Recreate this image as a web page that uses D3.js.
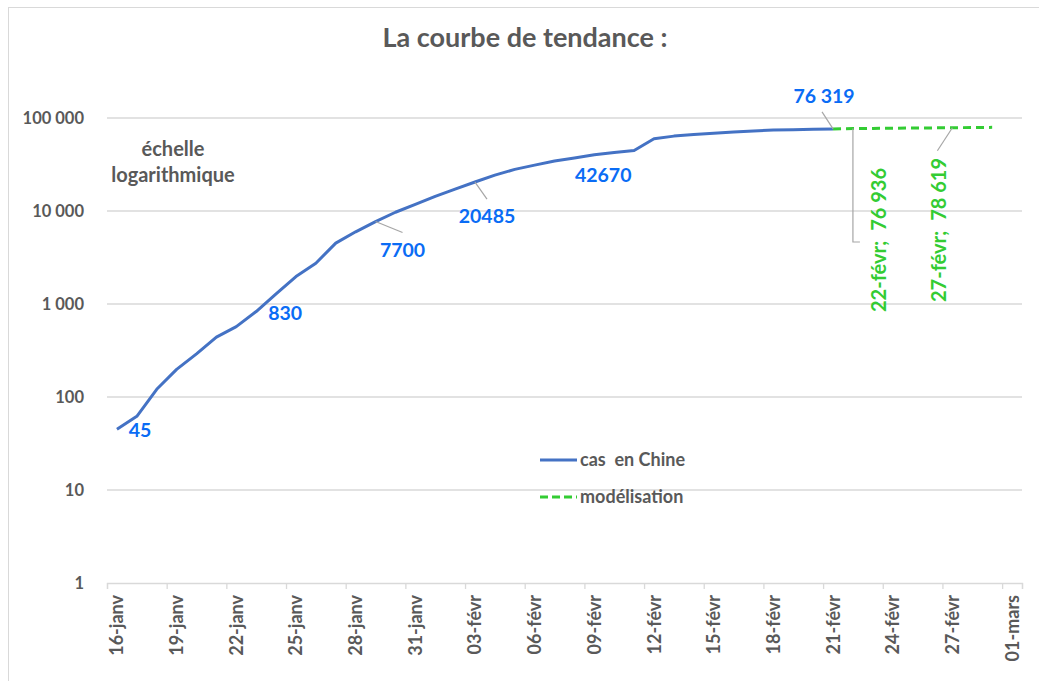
<!DOCTYPE html>
<html>
<head>
<meta charset="utf-8">
<script src="https://cdn.jsdelivr.net/npm/d3@7"></script>
<style>
  body { margin: 0; background: #fff; }
  text { font-family: Lato, "Open Sans", sans-serif; font-weight: bold; }
</style>
</head>
<body>
<div id="chart"></div>
<script>
var width = 1039,
	height = 681;

// cas confirmés en Chine
var casDates = ['2020-01-16','2020-01-17','2020-01-18','2020-01-19','2020-01-20','2020-01-21','2020-01-22',
	'2020-01-23','2020-01-24','2020-01-25','2020-01-26','2020-01-27','2020-01-28','2020-01-29','2020-01-30',
	'2020-01-31','2020-02-01','2020-02-02','2020-02-03','2020-02-04','2020-02-05','2020-02-06','2020-02-07',
	'2020-02-08','2020-02-09','2020-02-10','2020-02-11','2020-02-12','2020-02-13','2020-02-14','2020-02-15',
	'2020-02-16','2020-02-17','2020-02-18','2020-02-19','2020-02-20','2020-02-21'];
var casValues = [45, 62, 121, 198, 291, 440, 571, 830, 1287, 1975, 2744, 4515, 5974, 7700, 9692,
	11791, 14380, 17205, 20485, 24324, 28018, 31161, 34546, 37198, 40171, 42670, 44653, 59804, 63851,
	66492, 68500, 70548, 72436, 74185, 74576, 75465, 76319];

// modélisation
var modDates = ['2020-02-21','2020-02-22','2020-02-23','2020-02-24','2020-02-25','2020-02-26',
	'2020-02-27','2020-02-28','2020-02-29'];
var modValues = [76319, 76936, 77300, 77600, 77950, 78300, 78619, 78950, 79300];

var xTickLabels = ['16-janv','19-janv','22-janv','25-janv','28-janv','31-janv','03-févr','06-févr',
	'09-févr','12-févr','15-févr','18-févr','21-févr','24-févr','27-févr','01-mars'];
var yTickValues = [1, 10, 100, 1000, 10000, 100000];
var yTickLabels = ['1', '10', '100', '1 000', '10 000', '100 000'];

var parse = d3.utcParse('%Y-%m-%d');
var startDate = parse('2020-01-16'),
	endDate = parse('2020-03-02');

var GRAY = '#595959',
	BLUE = '#4472C4',
	LBLUE = '#0a6cf5',
	GREEN = '#33cc33';

var svg = d3.select('#chart').append('svg')
	.attr('width', width)
	.attr('height', height);

// chart border
svg.append('rect')
	.attr('x', 8.5).attr('y', 7.5)
	.attr('width', 1100).attr('height', 800)
	.style('fill', 'none')
	.style('stroke', '#d9d9d9')
	.style('stroke-width', 1);

var x = d3.scaleUtc()
	.domain([startDate, endDate])
	.range([107, 1022]);

var y = d3.scaleLog()
	.domain([1, 100000])
	.range([583, 118]);

// points sit in the middle of each day
function px(d) {
	return x(d3.utcHour.offset(d, 12));
}

// gridlines
svg.append('g')
	.selectAll('line')
	.data(yTickValues.slice(1))
	.enter()
	.append('line')
	.attr('x1', 107).attr('x2', 1022)
	.attr('y1', d => y(d)).attr('y2', d => y(d))
	.style('stroke', '#d9d9d9')
	.style('stroke-width', 1.3);

// y labels
svg.append('g')
	.selectAll('text')
	.data(yTickValues)
	.enter()
	.append('text')
	.attr('x', 84)
	.attr('y', d => y(d) + 6)
	.attr('text-anchor', 'end')
	.style('font-size', '16.5px')
	.style('fill', GRAY)
	.text((d, i) => yTickLabels[i]);

// x axis
var tickDates = d3.utcDay.range(startDate, endDate, 3);
var xAxis = d3.axisBottom(x)
	.tickValues(tickDates.concat([endDate]))
	.tickSize(6)
	.tickFormat('');

var gx = svg.append('g')
	.attr('transform', 'translate(0,583)')
	.call(xAxis);
gx.select('.domain').style('stroke', '#d9d9d9').style('stroke-width', 1.3);
gx.selectAll('.tick line').style('stroke', '#d9d9d9').style('stroke-width', 1.3);

svg.append('g')
	.selectAll('text')
	.data(tickDates)
	.enter()
	.append('text')
	.attr('transform', d => 'translate(' + (px(d) + 6.5) + ',595) rotate(-90)')
	.attr('text-anchor', 'end')
	.style('font-size', '18px')
	.style('fill', GRAY)
	.text((d, i) => xTickLabels[i]);

// lines
var line = d3.line()
	.x(d => px(d.date))
	.y(d => y(d.value));

var cas = casDates.map((d, i) => ({date: parse(d), value: casValues[i]}));
var mod = modDates.map((d, i) => ({date: parse(d), value: modValues[i]}));

svg.append('path')
	.datum(mod)
	.attr('d', line)
	.style('fill', 'none')
	.style('stroke', GREEN)
	.style('stroke-width', 3)
	.style('stroke-dasharray', '8,5');

svg.append('path')
	.datum(cas)
	.attr('d', line)
	.style('fill', 'none')
	.style('stroke', BLUE)
	.style('stroke-width', 3)
	.style('stroke-linejoin', 'round');

// data labels : index in series, then baseline offsets
var casLabels = [
	{i: 0, dx: 23, dy: 8, leader: null},
	{i: 7, dx: 29, dy: 8.5, leader: null},
	{i: 13, dx: 27, dy: 35, leader: [27, 11]},
	{i: 18, dx: 12, dy: 41, leader: [12, 17]},
	{i: 25, dx: -11, dy: 29.5, leader: null},
	{i: 36, dx: -9, dy: -26, leader: [-11, -17]}
];

var fmt = d3.formatLocale({decimal: ',', thousands: ' ', grouping: [3], currency: ['', '€']});

casLabels.forEach(function(l) {
	var d = cas[l.i];
	var cx = px(d.date), cy = y(d.value);
	if (l.leader) {
		svg.append('line')
			.attr('x1', cx).attr('y1', cy)
			.attr('x2', cx + l.leader[0]).attr('y2', cy + l.leader[1])
			.style('stroke', '#a6a6a6').style('stroke-width', 1.2);
	}
	svg.append('text')
		.attr('x', cx + l.dx)
		.attr('y', cy + l.dy)
		.attr('text-anchor', 'middle')
		.style('font-size', '19.5px')
		.style('fill', LBLUE)
		.text(l.i === 36 ? fmt.format(',')(d.value) : d.value);
});

// model labels, rotated
var modLabels = [
	{i: 1, text: '22-févr;  76 936', lx: 878, ly: 240, leader: 'elbow'},
	{i: 6, text: '27-févr;  78 619', lx: 938, ly: 230, leader: 'line'}
];

modLabels.forEach(function(l) {
	var d = mod[l.i];
	var cx = px(d.date), cy = y(d.value);
	if (l.leader === 'elbow') {
		svg.append('path')
			.attr('d', 'M' + cx + ',' + cy + 'V' + 242 + 'H' + (cx + 7))
			.style('fill', 'none')
			.style('stroke', '#a6a6a6').style('stroke-width', 1.2);
	} else {
		svg.append('line')
			.attr('x1', cx).attr('y1', cy)
			.attr('x2', cx - 15).attr('y2', cy + 23)
			.style('stroke', '#a6a6a6').style('stroke-width', 1.2);
	}
	svg.append('text')
		.attr('transform', 'translate(' + (l.lx + 8) + ',' + l.ly + ') rotate(-90)')
		.attr('text-anchor', 'middle')
		.style('font-size', '20px')
		.style('fill', GREEN)
		.style('white-space', 'pre')
		.text(l.text);
});

// title
svg.append('text')
	.attr('x', 525)
	.attr('y', 47)
	.attr('text-anchor', 'middle')
	.style('font-size', '27px')
	.style('fill', GRAY)
	.text('La courbe de tendance :');

// annotation
var note = svg.append('text')
	.attr('text-anchor', 'middle')
	.style('font-size', '20px')
	.style('fill', GRAY);
note.append('tspan').attr('x', 173).attr('y', 156).text('échelle');
note.append('tspan').attr('x', 173).attr('y', 182).text('logarithmique');

// legend
var legend = [
	{name: 'cas  en Chine', color: BLUE, dash: null, y: 460},
	{name: 'modélisation', color: GREEN, dash: '8,4', y: 497}
];
var lg = svg.append('g')
	.selectAll('g')
	.data(legend)
	.enter()
	.append('g');
lg.append('line')
	.attr('x1', 540).attr('x2', 577)
	.attr('y1', d => d.y).attr('y2', d => d.y)
	.style('stroke', d => d.color)
	.style('stroke-width', 3)
	.style('stroke-dasharray', d => d.dash);
lg.append('text')
	.attr('x', 580)
	.attr('y', d => d.y + 6)
	.style('font-size', '18px')
	.style('fill', GRAY)
	.style('white-space', 'pre')
	.text(d => d.name);
</script>
</body>
</html>
